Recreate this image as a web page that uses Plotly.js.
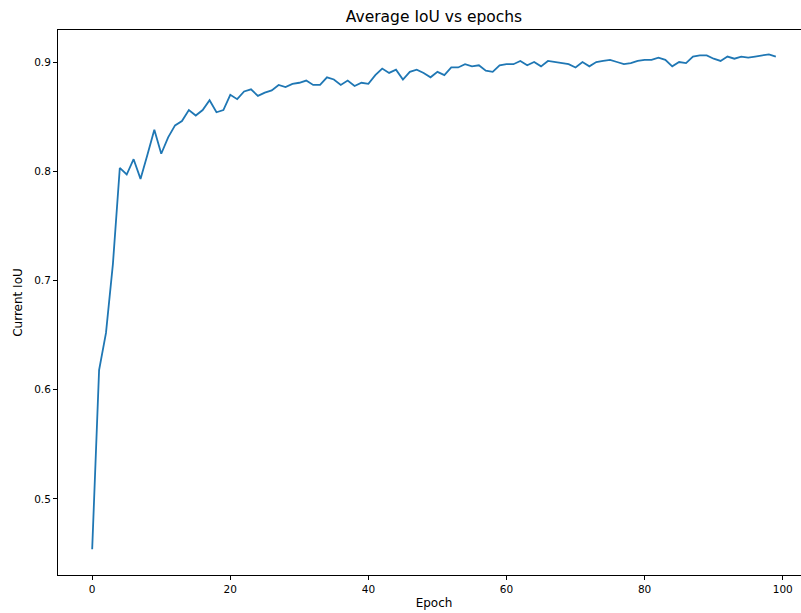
<!DOCTYPE html>
<html>
<head>
<meta charset="utf-8">
<script src="https://cdn.plot.ly/plotly-3.0.1.min.js"></script>
<style>
html, body { margin: 0; padding: 0; overflow: hidden; background: #fff; }
#chart { width: 811px; height: 613px; }
</style>
</head>
<body>
<div id="chart"></div>
<script>
const epochs = [];
for (let i = 0; i < 100; i++) epochs.push(i);

const iou = [
  0.454, 0.618, 0.652, 0.715, 0.803, 0.797, 0.811, 0.793, 0.815, 0.838,
  0.816, 0.831, 0.842, 0.846, 0.856, 0.851, 0.856, 0.865, 0.854, 0.856,
  0.870, 0.866, 0.873, 0.875, 0.869, 0.872, 0.874, 0.879, 0.877, 0.880,
  0.881, 0.883, 0.879, 0.879, 0.886, 0.884, 0.879, 0.883, 0.878, 0.881,
  0.880, 0.888, 0.894, 0.890, 0.893, 0.884, 0.891, 0.893, 0.890, 0.886,
  0.891, 0.888, 0.895, 0.895, 0.898, 0.896, 0.897, 0.892, 0.891, 0.897,
  0.898, 0.898, 0.901, 0.897, 0.900, 0.896, 0.901, 0.900, 0.899, 0.898,
  0.895, 0.900, 0.896, 0.900, 0.901, 0.902, 0.900, 0.898, 0.899, 0.901,
  0.902, 0.902, 0.904, 0.902, 0.896, 0.900, 0.899, 0.905, 0.906, 0.906,
  0.903, 0.901, 0.905, 0.903, 0.905, 0.904, 0.905, 0.906, 0.907, 0.905
];

const xTicks = [0, 20, 40, 60, 80, 100];
const yTicks = [0.5, 0.6, 0.7, 0.8, 0.9];

const font = { family: 'DejaVu Sans, sans-serif', size: 10.5, color: '#000' };
const labelFont = { family: 'DejaVu Sans, sans-serif', size: 12, color: '#000' };

Plotly.newPlot('chart', [{
  x: epochs,
  y: iou,
  type: 'scatter',
  mode: 'lines',
  line: { color: '#1f77b4', width: 1.8 },
  hoverinfo: 'skip'
}], {
  width: 811,
  height: 613,
  margin: { l: 58, r: 1, t: 30, b: 38 },
  paper_bgcolor: '#fff',
  plot_bgcolor: '#fff',
  showlegend: false,
  font: font,
  title: {
    text: 'Average IoU vs epochs',
    font: { family: 'DejaVu Sans, sans-serif', size: 15.5, color: '#000' },
    x: 0.5, xanchor: 'center', xref: 'paper',
    y: 1 - 17 / 613, yanchor: 'middle', yref: 'container'
  },
  xaxis: {
    range: [-4.95, 103.95],
    tickvals: xTicks,
    ticktext: xTicks.map(String),
    ticks: 'outside', ticklen: 4, tickwidth: 1, tickcolor: '#000',
    showgrid: false, zeroline: false,
    showline: true, mirror: true, linecolor: '#000', linewidth: 1,
    tickfont: font,
    title: { text: 'Epoch', font: labelFont, standoff: 5 },
    automargin: false
  },
  yaxis: {
    range: [0.4304, 0.9293],
    tickvals: yTicks,
    ticktext: yTicks.map(v => v.toFixed(1)),
    ticks: 'outside', ticklen: 4, tickwidth: 1, tickcolor: '#000',
    showgrid: false, zeroline: false,
    showline: true, mirror: true, linecolor: '#000', linewidth: 1,
    tickfont: font,
    title: { text: 'Current IoU', font: labelFont, standoff: 8 },
    automargin: false
  }
}, { displayModeBar: false, staticPlot: true });
</script>
</body>
</html>
